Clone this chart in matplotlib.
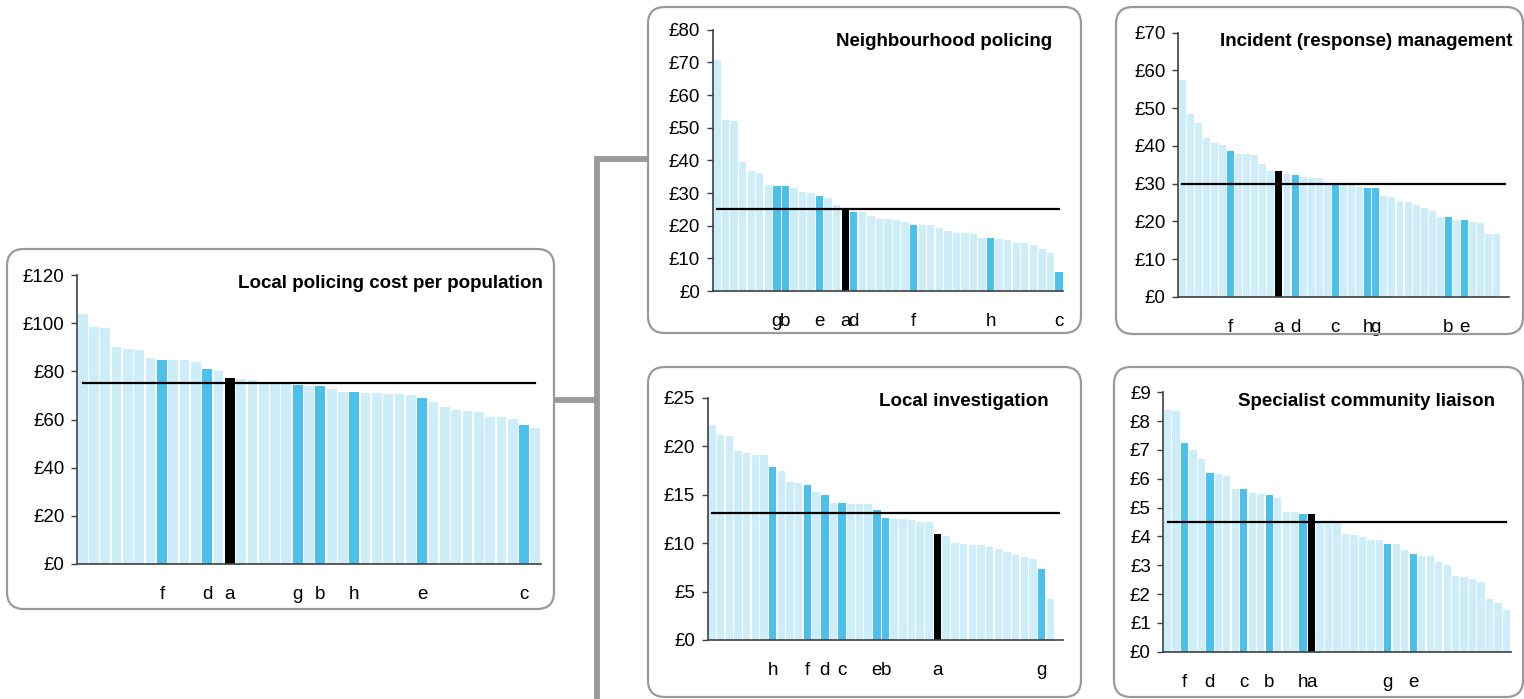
import matplotlib
matplotlib.use("Agg")
from matplotlib import pyplot as plt
from matplotlib.patches import FancyBboxPatch
from matplotlib.lines import Line2D
import numpy as np

plt.rcParams['font.family'] = ['Liberation Sans', 'DejaVu Sans']

# ---- data (£ per head) ----
local_policing = [103.7, 98.6, 98.2, 89.9, 89.1, 88.7, 85.5, 84.9, 84.5, 84.5, 83.7, 80.8, 80.0, 77.1,
                  76.7, 76.2, 75.5, 75.4, 75.3, 74.2, 73.8, 73.8, 72.5, 71.3, 71.3, 70.9, 70.9, 70.4,
                  70.4, 70.0, 68.8, 67.1, 65.1, 63.8, 63.4, 63.0, 60.9, 60.9, 60.1, 57.6, 56.4]
local_policing_marks = {'f': 7, 'd': 11, 'a': 13, 'g': 19, 'b': 21, 'h': 24, 'e': 30, 'c': 39}
local_policing_avg = 75.3

neighbourhood = [70.7, 52.3, 52.0, 39.5, 36.8, 36.2, 32.5, 32.0, 32.0, 31.6, 30.4, 30.0, 29.2, 28.6,
                 26.4, 25.3, 24.2, 24.2, 23.1, 22.1, 22.1, 21.8, 21.2, 20.3, 20.3, 20.3, 19.3, 18.4,
                 17.8, 17.8, 17.5, 16.3, 16.3, 16.0, 15.7, 14.8, 14.8, 14.2, 13.0, 11.7, 5.9]
neighbourhood_marks = {'g': 7, 'b': 8, 'e': 12, 'a': 15, 'd': 16, 'f': 23, 'h': 32, 'c': 40}
neighbourhood_avg = 25.2

incident = [57.6, 48.4, 46.1, 42.0, 40.7, 40.2, 38.8, 38.0, 37.8, 37.5, 35.3, 33.5, 33.3, 32.5,
            32.2, 31.7, 31.4, 31.4, 30.0, 30.0, 29.7, 29.6, 29.1, 28.8, 28.8, 26.7, 26.4, 25.3,
            25.1, 24.3, 23.5, 22.7, 21.1, 21.1, 20.3, 20.3, 19.8, 19.5, 16.6, 16.6, np.nan]
incident_marks = {'f': 6, 'a': 12, 'd': 14, 'c': 19, 'h': 23, 'g': 24, 'b': 33, 'e': 35}
incident_avg = 29.8

investigation = [22.2, 21.2, 21.0, 19.5, 19.3, 19.1, 19.1, 17.8, 17.4, 16.3, 16.2, 15.95, 15.3, 15.0,
                 14.1, 14.1, 14.0, 14.0, 14.0, 13.4, 12.55, 12.45, 12.45, 12.35, 12.15, 12.15, 10.95,
                 10.75, 10.05, 9.95, 9.85, 9.85, 9.55, 9.35, 9.05, 8.75, 8.55, 8.35, 7.35, 4.25, np.nan]
investigation_marks = {'h': 7, 'f': 11, 'd': 13, 'c': 15, 'e': 19, 'b': 20, 'a': 26, 'g': 38}
investigation_avg = 13.15

liaison = [8.39, 8.36, 7.25, 6.99, 6.69, 6.21, 6.18, 6.11, 5.65, 5.65, 5.51, 5.48, 5.44, 5.34,
           4.86, 4.86, 4.79, 4.79, 4.54, 4.54, 4.5, 4.09, 4.06, 3.98, 3.88, 3.88, 3.74, 3.74,
           3.53, 3.39, 3.32, 3.32, 3.11, 3.01, 2.63, 2.60, 2.52, 2.42, 1.83, 1.69, 1.45]
liaison_marks = {'f': 2, 'd': 5, 'c': 9, 'b': 12, 'h': 16, 'a': 17, 'g': 26, 'e': 29}
liaison_avg = 4.49

W, H = 1524, 699
LIGHT = '#cdedf9'
BLUE = '#4ac0ea'
GREY = '#9a9a9a'
AXIS = '#404040'
FS = 13.5

fig = plt.figure(figsize=(W / 100, H / 100), dpi=100)
fig.patch.set_facecolor('white')
inch = fig.dpi_scale_trans


def px(x, y):
    return x / 100, (H - y) / 100


def box(x0, y0, x1, y1):
    (a, b), (c, d) = px(x0, y1), px(x1, y0)
    p = FancyBboxPatch((a, b), c - a, d - b, boxstyle="round,pad=0,rounding_size=0.17",
                       transform=inch, facecolor='none', edgecolor=GREY, lw=1.6)
    fig.add_artist(p)


def connector(points):
    xs, ys = zip(*[px(x, y) for x, y in points])
    fig.add_artist(Line2D(xs, ys, transform=inch, color=GREY, lw=4.2, solid_capstyle='butt',
                          solid_joinstyle='miter'))


def panel(rect, values, marks, avg, ymax, ystep, title, title_xy):
    left, top, right, bottom = rect
    ax = fig.add_axes([left / W, 1 - bottom / H, (right - left) / W, (bottom - top) / H])
    n = len(values)
    x = np.arange(n)
    colors = [LIGHT] * n
    for letter, i in marks.items():
        colors[i] = 'black' if letter == 'a' else BLUE
    ax.bar(x, np.nan_to_num(values), width=0.86, color=colors, linewidth=0)
    ax.plot([0, n - 1], [avg, avg], color='black', lw=1.6)
    ax.set_xlim(-0.5, n - 0.5)
    ax.set_ylim(0, ymax)
    ticks = np.arange(0, ymax + ystep / 2, ystep)
    ax.set_yticks(ticks, [f'£{t:g}' for t in ticks])
    ax.set_xticks([])
    ax.tick_params(axis='y', length=4, width=1, color=AXIS, pad=5, labelsize=FS)
    for s in ['top', 'right']:
        ax.spines[s].set_visible(False)
    for s in ['left', 'bottom']:
        ax.spines[s].set_color(AXIS)
        ax.spines[s].set_linewidth(1.2)
    ax.set_facecolor('none')
    for letter, i in marks.items():
        ax.annotate(letter, xy=(i, 0), xycoords=('data', 'axes fraction'), xytext=(0, -25.5),
                    textcoords='offset points', ha='center', va='baseline', fontsize=FS)
    tx, ty = px(*title_xy)
    fig.text(tx, ty, title, transform=inch, ha='right', va='center', fontsize=FS,
             fontweight='bold')
    return ax


# frames and connectors
box(7, 249, 554, 609)
box(648, 7, 1081, 333)
box(1116, 7, 1523, 334)
box(648, 367, 1081, 697)
box(1114, 367, 1523, 697)
connector([(555, 400), (597, 400)])
connector([(597, 710), (597, 159), (648, 159)])

panel((77, 275, 541, 564), local_policing, local_policing_marks, local_policing_avg,
      120, 20, 'Local policing cost per population', (543, 284))
panel((712.7, 29.7, 1063.3, 291), neighbourhood, neighbourhood_marks, neighbourhood_avg,
      80, 10, 'Neighbourhood policing', (1052, 42))
panel((1178, 32.7, 1509, 297), incident, incident_marks, incident_avg,
      70, 10, 'Incident (response) management', (1513, 42))
panel((707.7, 397.7, 1063.3, 640), investigation, investigation_marks, investigation_avg,
      25, 5, 'Local investigation', (1049, 402))
panel((1163.3, 392.3, 1510.7, 651.7), liaison, liaison_marks, liaison_avg,
      9, 1, 'Specialist community liaison', (1495, 402))

plt.savefig('out.png', dpi=100)
